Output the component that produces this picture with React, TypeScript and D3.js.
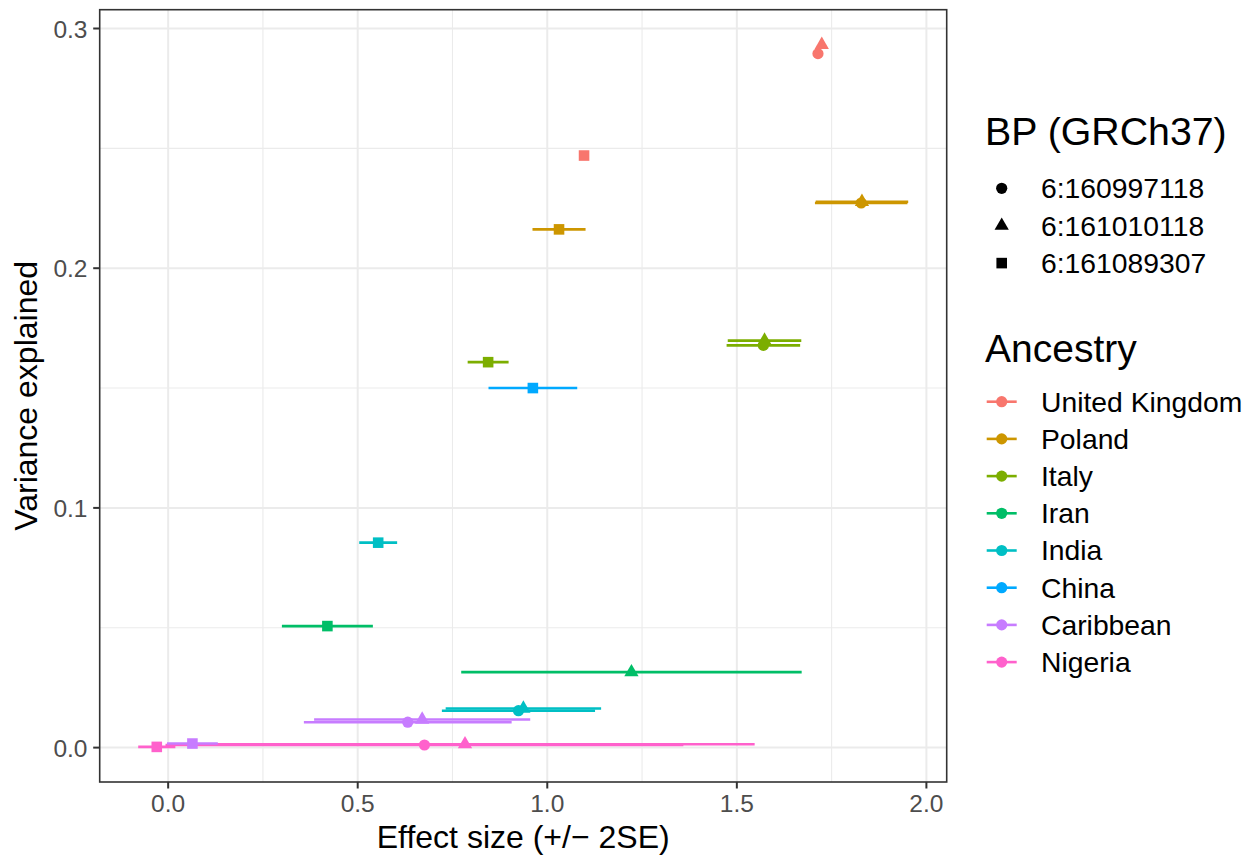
import React from "react";
import * as d3 from "d3";

// ---- Data ----
const ancestries = ["United Kingdom", "Poland", "Italy", "Iran", "India", "China", "Caribbean", "Nigeria"];
const ancestryColors = ["#F8766D", "#CD9600", "#7CAE00", "#00BE67", "#00BFC4", "#00A9FF", "#C77CFF", "#FF61CC"];
const snps = ["6:160997118", "6:161010118", "6:161089307"];
const snpShapes = ["circle", "triangle", "square"];

// one entry per estimate
const pointAncestry = [
  "United Kingdom", "Poland", "Italy", "India", "Caribbean", "Nigeria",
  "United Kingdom", "Poland", "Italy", "Iran", "India", "Caribbean", "Nigeria",
  "United Kingdom", "Poland", "Italy", "Iran", "India", "China", "Caribbean", "Nigeria",
];
const pointSnp = [
  "6:160997118", "6:160997118", "6:160997118", "6:160997118", "6:160997118", "6:160997118",
  "6:161010118", "6:161010118", "6:161010118", "6:161010118", "6:161010118", "6:161010118", "6:161010118",
  "6:161089307", "6:161089307", "6:161089307", "6:161089307", "6:161089307", "6:161089307", "6:161089307", "6:161089307",
];
const effectSize = [
  1.714, 1.828, 1.570, 0.924, 0.632, 0.676,
  1.724, 1.830, 1.573, 1.222, 0.937, 0.670, 0.783,
  1.097, 1.031, 0.844, 0.420, 0.554, 0.962, 0.064, -0.030,
];
const twoSE = [
  0.008, 0.122, 0.097, 0.202, 0.274, 0.683,
  0.008, 0.122, 0.097, 0.449, 0.205, 0.285, 0.764,
  0.008, 0.070, 0.054, 0.120, 0.050, 0.117, 0.067, 0.049,
];
const varianceExplained = [
  0.2895, 0.2272, 0.1678, 0.0154, 0.0106, 0.0011,
  0.2932, 0.2277, 0.1698, 0.0315, 0.0163, 0.0117, 0.0014,
  0.2470, 0.2162, 0.1608, 0.0507, 0.0855, 0.1500, 0.0017, 0.0003,
];
const xTicks = [0, 0.5, 1.0, 1.5, 2.0];
const yTicks = [0, 0.1, 0.2, 0.3];

const W = 1256;
const H = 860;
const panel = { left: 99.7, right: 946.7, top: 9.7, bottom: 782 };
const FONT = "'Liberation Sans', Arial, Helvetica, sans-serif";

function shapePath(shape: string) {
  if (shape === "circle") return d3.symbol(d3.symbolCircle, 98)()!;
  if (shape === "triangle") return d3.symbol(d3.symbolTriangle, 88)()!;
  return d3.symbol(d3.symbolSquare, 112)()!;
}

export default function App() {
  const lows = effectSize.map((e, i) => e - twoSE[i]);
  const highs = effectSize.map((e, i) => e + twoSE[i]);
  const xMin = d3.min(lows)!;
  const xMax = d3.max(highs)!;
  const yMin = d3.min(varianceExplained)!;
  const yMax = d3.max(varianceExplained)!;
  const xPad = (xMax - xMin) * 0.05;
  const yPad = (yMax - yMin) * 0.05;
  const x = d3.scaleLinear().domain([xMin - xPad, xMax + xPad]).range([panel.left, panel.right]);
  const y = d3.scaleLinear().domain([yMin - yPad, yMax + yPad]).range([panel.bottom, panel.top]);
  const color = d3.scaleOrdinal<string, string>().domain(ancestries).range(ancestryColors);
  const shapeOf = d3.scaleOrdinal<string, string>().domain(snps).range(snpShapes);

  const xMinor = xTicks.slice(0, -1).map((t, i) => (t + xTicks[i + 1]) / 2);
  const yMinor = yTicks.slice(0, -1).map((t, i) => (t + yTicks[i + 1]) / 2);
  const [dx0, dx1] = x.domain();
  const [dy0, dy1] = y.domain();
  const xMinorAll = [xTicks[0] - 0.25, ...xMinor, xTicks[xTicks.length - 1] + 0.25].filter((v) => v > dx0 && v < dx1);
  const yMinorAll = [...yMinor].filter((v) => v > dy0 && v < dy1);

  const idx = effectSize.map((_, i) => i);
  const grid = "#EBEBEB";

  return (
    <svg width={W} height={H} style={{ position: "absolute", left: 0, top: 0, background: "#fff" }} fontFamily={FONT}>
      <rect x={0} y={0} width={W} height={H} fill="#fff" />
      {/* minor grid */}
      {xMinorAll.map((v) => (
        <line key={"xm" + v} x1={x(v)} x2={x(v)} y1={panel.top} y2={panel.bottom} stroke={grid} strokeWidth={1.1} />
      ))}
      {yMinorAll.map((v) => (
        <line key={"ym" + v} x1={panel.left} x2={panel.right} y1={y(v)} y2={y(v)} stroke={grid} strokeWidth={1.1} />
      ))}
      {/* major grid */}
      {xTicks.map((v) => (
        <line key={"xg" + v} x1={x(v)} x2={x(v)} y1={panel.top} y2={panel.bottom} stroke={grid} strokeWidth={2} />
      ))}
      {yTicks.map((v) => (
        <line key={"yg" + v} x1={panel.left} x2={panel.right} y1={y(v)} y2={y(v)} stroke={grid} strokeWidth={2} />
      ))}

      {/* error bars */}
      {idx.map((i) => (
        <line
          key={"eb" + i}
          x1={x(lows[i])}
          x2={x(highs[i])}
          y1={y(varianceExplained[i])}
          y2={y(varianceExplained[i])}
          stroke={color(pointAncestry[i])}
          strokeWidth={2.6}
        />
      ))}
      {/* points */}
      {idx.map((i) => (
        <path
          key={"pt" + i}
          d={shapePath(shapeOf(pointSnp[i]))}
          transform={`translate(${x(effectSize[i])},${y(varianceExplained[i])})`}
          fill={color(pointAncestry[i])}
        />
      ))}

      {/* panel border */}
      <rect
        x={panel.left}
        y={panel.top}
        width={panel.right - panel.left}
        height={panel.bottom - panel.top}
        fill="none"
        stroke="#333333"
        strokeWidth={1.6}
      />

      {/* axes ticks and labels */}
      {xTicks.map((v) => (
        <g key={"xt" + v}>
          <line x1={x(v)} x2={x(v)} y1={panel.bottom} y2={panel.bottom + 6.5} stroke="#333333" strokeWidth={2} />
          <text x={x(v)} y={811.5} textAnchor="middle" fontSize={24.5} fill="#4D4D4D">
            {d3.format(".1f")(v)}
          </text>
        </g>
      ))}
      {yTicks.map((v) => (
        <g key={"yt" + v}>
          <line x1={panel.left - 6.5} x2={panel.left} y1={y(v)} y2={y(v)} stroke="#333333" strokeWidth={2} />
          <text x={87.5} y={y(v) + 9} textAnchor="end" fontSize={24.5} fill="#4D4D4D">
            {d3.format(".1f")(v)}
          </text>
        </g>
      ))}

      {/* axis titles */}
      <text x={(panel.left + panel.right) / 2} y={848} textAnchor="middle" fontSize={32} fill="#000">
        Effect size (+/− 2SE)
      </text>
      <text
        transform={`translate(37,${(panel.top + panel.bottom) / 2}) rotate(-90)`}
        textAnchor="middle"
        fontSize={32}
        fill="#000"
      >
        Variance explained
      </text>

      {/* legend: shapes */}
      <text x={985} y={145} fontSize={39.3} fill="#000">BP (GRCh37)</text>
      {snps.map((s, i) => (
        <g key={"ls" + s} transform={`translate(0,${188.3 + i * 37.4})`}>
          <path d={shapePath(shapeOf(s))} transform="translate(1001.7,0)" fill="#000" />
          <text x={1041} y={9.8} fontSize={28.3} fill="#000">{s}</text>
        </g>
      ))}

      {/* legend: ancestry */}
      <text x={985} y={362} fontSize={39} fill="#000">Ancestry</text>
      {ancestries.map((a, i) => (
        <g key={"la" + a} transform={`translate(0,${401.7 + i * 37.2})`}>
          <line x1={986.7} x2={1016.7} y1={0} y2={0} stroke={color(a)} strokeWidth={2.6} />
          <path d={shapePath("circle")} transform="translate(1001.7,0)" fill={color(a)} />
          <text x={1041} y={9.8} fontSize={28.3} fill="#000">{a}</text>
        </g>
      ))}
    </svg>
  );
}
